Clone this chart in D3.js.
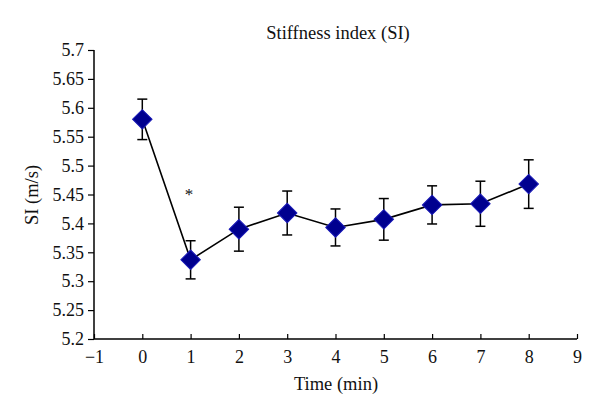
<!DOCTYPE html>
<html><head><meta charset="utf-8">
<script src="https://cdn.jsdelivr.net/npm/d3@7"></script>
<style>body{margin:0;background:#fff}svg{display:block}text{font-family:"Liberation Serif","DejaVu Serif",serif;fill:#111}</style>
</head><body><svg id="c" width="600" height="418"></svg>
<script>
const times = [0,1,2,3,4,5,6,7,8];
const siMean = [5.58,5.337,5.39,5.418,5.393,5.407,5.432,5.434,5.468];
const siErr = [0.035,0.033,0.038,0.038,0.032,0.036,0.033,0.039,0.042];
const xTicks = [-1,0,1,2,3,4,5,6,7,8,9];
const yTicks = [5.2,5.25,5.3,5.35,5.4,5.45,5.5,5.55,5.6,5.65,5.7];

const svg = d3.select("#c");
const m = {l:94, r:577, t:50, b:339};
const x = d3.scaleLinear().domain([-1,9]).range([m.l,m.r]);
const y = d3.scaleLinear().domain([5.2,5.7]).range([m.b,m.t]);
const FONT = '"Liberation Serif","DejaVu Serif",serif';

const ya = svg.append("g").attr("transform",`translate(${m.l},0)`)
  .call(d3.axisLeft(y).tickValues(yTicks).tickSize(5).tickPadding(5).tickFormat(d=>d3.format("")(+d.toFixed(2))));
const xa = svg.append("g").attr("transform",`translate(0,${m.b})`)
  .call(d3.axisBottom(x).tickValues(xTicks).tickSize(-5).tickPadding(11).tickFormat(d=>d<0?"\u2212"+Math.abs(d):d));
[ya,xa].forEach(a=>{a.select(".domain").attr("stroke","#000").attr("stroke-width",1.5);
  a.selectAll(".tick line").attr("stroke","#000").attr("stroke-width",1.2);
  a.selectAll("text").style("font-size","18px").style("font-family",FONT).attr("fill","#111");});
xa.select(".domain").attr("d",`M${m.l},0H${m.r}`);
ya.select(".domain").attr("d",`M0,${m.b}V${m.t}`);
ya.selectAll(".tick line").attr("x2",-6);

const data = times.map((t,i)=>({t,v:siMean[i],e:siErr[i]}));
const eg = svg.append("g").attr("stroke","#000").attr("stroke-width",1.5);
data.forEach(d=>{
  eg.append("line").attr("x1",x(d.t)).attr("x2",x(d.t)).attr("y1",y(d.v+d.e)).attr("y2",y(d.v-d.e));
  [d.v+d.e,d.v-d.e].forEach(v=>eg.append("line").attr("x1",x(d.t)-5).attr("x2",x(d.t)+5).attr("y1",y(v)).attr("y2",y(v)));
});
svg.append("path").datum(data).attr("fill","none").attr("stroke","#000").attr("stroke-width",1.6)
  .attr("d",d3.line().x(d=>x(d.t)).y(d=>y(d.v)));
svg.append("g").selectAll("path").data(data).join("path")
  .attr("d",d3.symbol(d3.symbolSquare,190))
  .attr("transform",d=>`translate(${x(d.t)},${y(d.v)}) rotate(45)`)
  .attr("fill","#00008f").attr("stroke","#1a1ab8").attr("stroke-width",1);

svg.append("text").attr("x",x(1)-1.5).attr("y",y(5.45)+5).attr("text-anchor","middle").style("font-size","17px").attr("fill","#555").text("*");
svg.append("text").attr("x",338).attr("y",39).attr("text-anchor","middle").style("font-size","18.5px").text("Stiffness index (SI)");
svg.append("text").attr("x",336).attr("y",390).attr("text-anchor","middle").style("font-size","18.5px").text("Time (min)");
svg.append("text").attr("transform","translate(38,195) rotate(-90)").attr("text-anchor","middle").style("font-size","18.5px").text("SI (m/s)");
</script></body></html>
